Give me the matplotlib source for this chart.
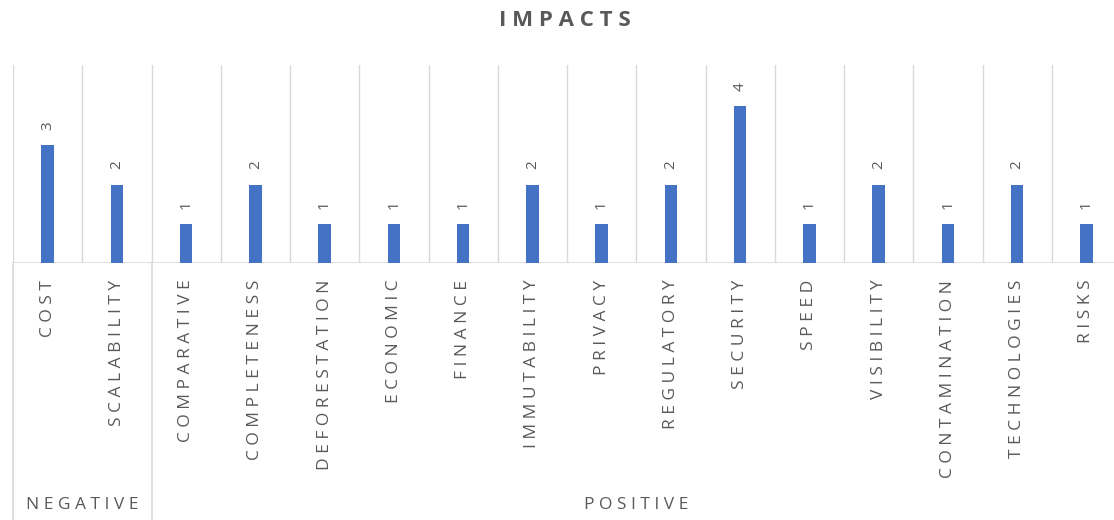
import numpy as np
import matplotlib
matplotlib.use("Agg")
import matplotlib.pyplot as plt

plt.rcParams["font.family"] = ["Open Sans", "DejaVu Sans"]

categories = ["COST", "SCALABILITY", "COMPARATIVE", "COMPLETENESS", "DEFORESTATION",
              "ECONOMIC", "FINANCE", "IMMUTABILITY", "PRIVACY", "REGULATORY",
              "SECURITY", "SPEED", "VISIBILITY", "CONTAMINATION", "TECHNOLOGIES", "RISKS"]
values = [3, 2, 1, 2, 1, 1, 1, 2, 1, 2, 4, 1, 2, 1, 2, 1]
groups = ["NEGATIVE", "POSITIVE"]
group_sizes = [2, 14]

BAR = "#4472C4"
TXT = "#595959"
GRID = "#D9D9D9"


def spaced(s, sep=" "):
    # excel-style letter spacing
    return sep.join(s)


W, H = 1114, 520
fig = plt.figure(figsize=(W / 100, H / 100), dpi=100)
left, right = 13 / W, 1121 / W
base, top = 263, 65
ax = fig.add_axes([left, (H - base) / H, right - left, (base - top) / H])

x = np.arange(len(categories))
ax.bar(x, values, width=0.18, color=BAR, zorder=3)
ax.set_xlim(-0.5, len(categories) - 0.5)
ax.set_ylim(0, 5.05)

for b in np.arange(len(categories)) - 0.5:
    ax.axvline(b, color=GRID, lw=1, zorder=1)
ax.axhline(0, color=GRID, lw=1.2, zorder=2)

for xi, v in zip(x, values):
    ax.annotate(str(v), (xi, v), xytext=(0, 11), textcoords="offset points",
                rotation=90, ha="center", va="bottom", color=TXT, fontsize=11)

for sp in ax.spines.values():
    sp.set_visible(False)
ax.set_xticks([])
ax.set_yticks([])

# category labels below the axis
for xi, c in zip(x, categories):
    ax.annotate(spaced(c), (xi, 0), xytext=(0, -12), textcoords="offset points",
                rotation=90, ha="center", va="top", color=TXT, fontsize=12.5,
                annotation_clip=False)

# group separators and labels
trans = ax.get_xaxis_transform()
start = -0.5
for g, n in zip(groups, group_sizes):
    ax.plot([start, start], [0, -base / (base - top) * 1.05], color=GRID, lw=1.2,
            transform=trans, clip_on=False, zorder=1)
    ax.text(start + n / 2, -(505 - base) / (base - top), spaced(g), transform=trans,
            ha="center", va="center", color=TXT, fontsize=12.5)
    start += n

fig.text(565 / W, 1 - 21 / H, spaced("IMPACTS"), ha="center", va="center",
         color=TXT, fontsize=16, fontweight="bold")

fig.savefig("out.png", dpi=100, facecolor="white")
